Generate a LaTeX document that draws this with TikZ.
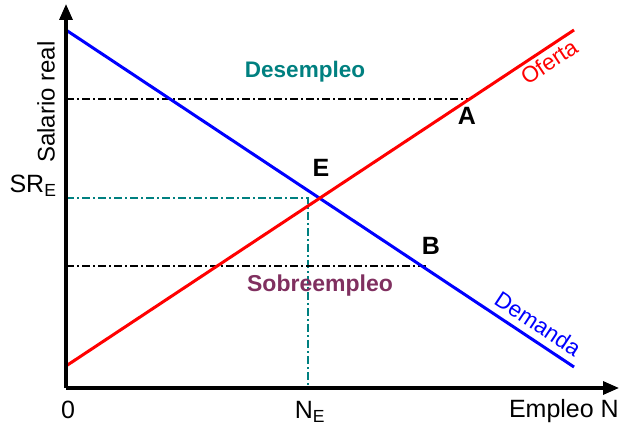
\documentclass[tikz,border=0pt]{standalone}
\usepackage{fontspec}
\setmainfont{Liberation Sans}
\usetikzlibrary{arrows.meta}
\definecolor{tealc}{RGB}{0,128,128}
\definecolor{sobre}{RGB}{128,48,96}
\tikzset{
  axisline/.style={line width=3.2pt,-{Triangle[length=16pt,width=13pt]}},
  curve/.style={line width=3pt},
  guide/.style={line width=1.8pt,dash pattern=on 8pt off 3pt on 2pt off 3pt},
  lbl/.style={font=\fontsize{25}{28}\selectfont,inner sep=0pt},
  blbl/.style={font=\fontsize{25}{28}\selectfont\bfseries,inner sep=0pt},
}
\begin{document}
\begin{tikzpicture}[x=1pt,y=1pt]
\useasboundingbox (0,0) rectangle (620,428);
\coordinate (O) at (66,40);
\coordinate (ytop) at (66,424);
\coordinate (xend) at (619,40);
\coordinate (d1) at (66,398);
\coordinate (d2) at (574,61);
\coordinate (s1) at (66,62);
\coordinate (s2) at (574,398);
\coordinate (eq) at (308,230);
\coordinate (eqy) at (66,230);
\coordinate (eqx) at (308,40);
\coordinate (ay) at (66,329);
\coordinate (ap) at (470,329);
\coordinate (by) at (66,162);
\coordinate (bp) at (428,162);
% guides
\draw[guide,tealc] (eqy) -- (eq) -- (eqx);
\draw[guide,black] (ay) -- (ap);
\draw[guide,black] (by) -- (bp);
% curves
\draw[curve,blue] (d1) -- (d2);
\draw[curve,red] (s1) -- (s2);
% axes
\draw[axisline] (O) -- (ytop);
\draw[axisline] (O) -- (xend);
% labels
\node[blbl,tealc,font=\fontsize{22.5}{24}\selectfont\bfseries] (des) at (305,356) {Desempleo};
\node[blbl,sobre,font=\fontsize{23}{24}\selectfont\bfseries] (sob) at (320,142) {Sobreempleo};
\node[blbl] (E) at (321,260) {E};
\node[blbl] (A) at (467,312) {A};
\node[blbl] (B) at (431,182) {B};
\node[lbl,red,rotate=33.5,font=\fontsize{22.5}{24}\selectfont] (of) at (549,366) {Oferta};
\node[lbl,blue,rotate=-33.5,font=\fontsize{22.5}{24}\selectfont] (dem) at (538,104) {Demanda};
\node[lbl,rotate=90,font=\fontsize{24}{24}\selectfont] (sal) at (46,326) {Salario real};
\node[lbl] (sre) at (33,242) {SR\textsubscript{E}};
\node[lbl] (zero) at (68,18) {0};
\node[lbl] (ne) at (310,16) {N\textsubscript{E}};
\node[lbl,anchor=east] (emp) at (619,17) {Empleo N};
\end{tikzpicture}
\end{document}
